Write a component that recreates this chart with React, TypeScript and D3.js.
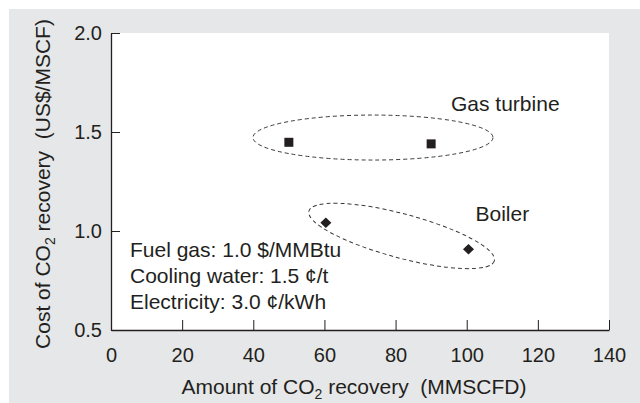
import React, { useEffect, useRef } from "react";
import * as d3 from "d3";

// Scatter values
const gasTurbine = [
  { amount: 50, cost: 1.448 },
  { amount: 90, cost: 1.44 },
];
const boiler = [
  { amount: 60.4, cost: 1.042 },
  { amount: 100.5, cost: 0.908 },
];
const xTicks = [0, 20, 40, 60, 80, 100, 120, 140];
const yTicks = [0.5, 1.0, 1.5, 2.0];
const notes = [
  "Fuel gas: 1.0 $/MMBtu",
  "Cooling water: 1.5 \u00a2/t",
  "Electricity: 3.0 \u00a2/kWh",
];
// grouping ellipses (centre in data units)
const groups = [
  { label: "Gas turbine", cx: 73.65, cy: 1.472, rx: 120, ry: 22.5, angle: 0, lx: 451, ly: 1.605 },
  { label: "Boiler", cx: 81.7, cy: 0.975, rx: 96, ry: 22, angle: 15, lx: 475.5, ly: 1.052 },
];

const App: React.FC = () => {
  const svgRef = useRef<SVGSVGElement>(null);

  useEffect(() => {
    if (!svgRef.current) return;
    d3.select(svgRef.current).selectAll("*").remove();

    const W = 640;
    const H = 403;
    const margin = { top: 33, right: 31, bottom: 73, left: 111 };
    const ink = "#231f20";
    const font = "'Liberation Sans', Arial, Helvetica, sans-serif";

    const svg = d3.select(svgRef.current).attr("width", W).attr("height", H);

    // grey panel and white plot area
    svg.append("rect").attr("x", 9).attr("y", 9).attr("width", W - 9).attr("height", H - 9).attr("fill", "#e6e7e8");
    svg
      .append("rect")
      .attr("x", margin.left)
      .attr("y", margin.top)
      .attr("width", W - margin.left - margin.right)
      .attr("height", H - margin.top - margin.bottom)
      .attr("fill", "#ffffff");

    const x = d3.scaleLinear().domain([0, 140]).range([margin.left, W - margin.right]);
    const y = d3.scaleLinear().domain([0.5, 2.0]).range([H - margin.bottom, margin.top]);

    // x axis, ticks pointing inward
    const gx = svg
      .append("g")
      .attr("transform", `translate(0,${H - margin.bottom})`)
      .call(d3.axisBottom(x).tickValues(xTicks).tickSize(-10).tickPadding(18).tickSizeOuter(0).tickFormat(d3.format("d")));
    gx.select(".domain").attr("stroke", ink).attr("stroke-width", 1.3);
    gx.selectAll(".tick line").attr("stroke", ink).attr("stroke-width", 1);
    gx.selectAll(".tick text").attr("fill", ink).attr("font-size", 20).attr("font-family", font);

    // y axis, ticks pointing inward
    const gy = svg
      .append("g")
      .attr("transform", `translate(${margin.left},0)`)
      .call(d3.axisLeft(y).tickValues(yTicks).tickSize(-9).tickPadding(9).tickSizeOuter(0).tickFormat(d3.format(".1f")));
    gy.select(".domain").attr("stroke", ink).attr("stroke-width", 1.3);
    gy.selectAll(".tick line").attr("stroke", ink).attr("stroke-width", 1);
    gy.selectAll(".tick text").attr("fill", ink).attr("font-size", 20).attr("font-family", font);

    // dashed grouping ellipses and labels
    groups.forEach((g) => {
      svg
        .append("ellipse")
        .attr("transform", `translate(${x(g.cx)},${y(g.cy)}) rotate(${g.angle})`)
        .attr("rx", g.rx)
        .attr("ry", g.ry)
        .attr("fill", "none")
        .attr("stroke", "#3a3a3a")
        .attr("stroke-width", 1)
        .attr("stroke-dasharray", "4,3");
      svg
        .append("text")
        .attr("x", g.lx)
        .attr("y", y(g.ly))
        .attr("fill", ink)
        .attr("font-size", 21)
        .attr("font-family", font)
        .text(g.label);
    });

    // markers
    const sq = 9;
    svg
      .selectAll(".gt")
      .data(gasTurbine)
      .enter()
      .append("rect")
      .attr("x", (d) => x(d.amount) - sq / 2)
      .attr("y", (d) => y(d.cost) - sq / 2)
      .attr("width", sq)
      .attr("height", sq)
      .attr("fill", ink);

    const diamond = d3.symbol().type(d3.symbolDiamond2).size(70);
    svg
      .selectAll(".bo")
      .data(boiler)
      .enter()
      .append("path")
      .attr("d", diamond)
      .attr("transform", (d) => `translate(${x(d.amount)},${y(d.cost)}) scale(1.05,1)`)
      .attr("fill", ink);

    // assumption notes
    svg
      .append("g")
      .selectAll("text")
      .data(notes)
      .enter()
      .append("text")
      .attr("x", 130)
      .attr("y", (d, i) => 256.5 + i * 26)
      .attr("fill", ink)
      .attr("font-size", 21)
      .attr("font-family", font)
      .text((d) => d);

    // x title with subscript
    const xt = svg
      .append("text")
      .attr("x", 354)
      .attr("y", 394)
      .attr("text-anchor", "middle")
      .attr("fill", ink)
      .attr("font-size", 21)
      .attr("font-family", font)
      .attr("xml:space", "preserve");
    xt.append("tspan").text("Amount of CO");
    xt.append("tspan").attr("font-size", 14).attr("dy", 5).text("2");
    xt.append("tspan").attr("dy", -5).text(" recovery  (MMSCFD)");

    // y title with subscript
    const yt = svg
      .append("text")
      .attr("transform", `translate(50,184) rotate(-90)`)
      .attr("text-anchor", "middle")
      .attr("fill", ink)
      .attr("font-size", 21)
      .attr("font-family", font)
      .attr("xml:space", "preserve");
    yt.append("tspan").text("Cost of CO");
    yt.append("tspan").attr("font-size", 14).attr("dy", 5).text("2");
    yt.append("tspan").attr("dy", -5).text(" recovery  (US$/MSCF)");
  }, []);

  return <svg ref={svgRef} style={{ position: "absolute", left: 0, top: 0, display: "block" }}></svg>;
};

export default App;
